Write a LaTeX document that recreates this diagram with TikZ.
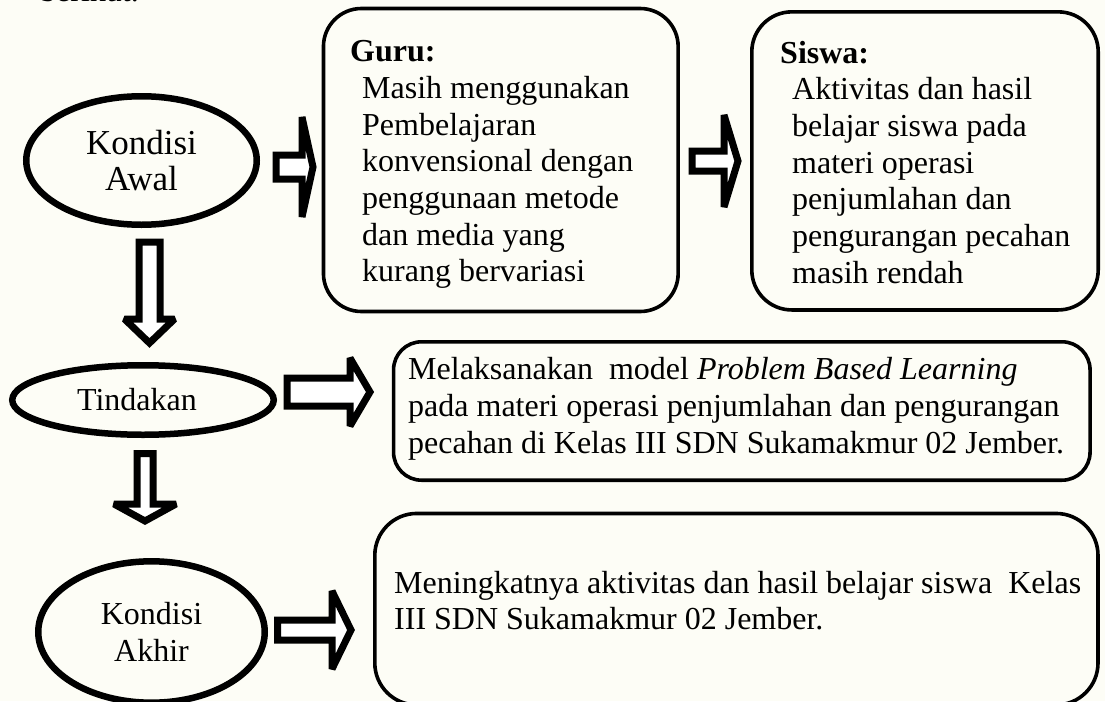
\documentclass[tikz,border=0pt]{standalone}
\usepackage{fontspec}
\setmainfont{Liberation Serif}
\usetikzlibrary{shapes.geometric}
\definecolor{bgcream}{RGB}{253,253,246}
% horizontal block arrow: x0, x head, x tip, y centre, shaft half, head half
\newcommand\harrow[6]{%
  \draw[barrow] (#1,#4-#5) -- (#2,#4-#5) -- (#2,#4-#6) -- (#3,#4) -- (#2,#4+#6) -- (#2,#4+#5) -- (#1,#4+#5) -- cycle;}
% vertical block arrow: x centre, y0, y head, y tip, shaft half, head half
\newcommand\varrow[6]{%
  \draw[barrow] (#1-#5,#2) -- (#1-#5,#3) -- (#1-#6,#3) -- (#1,#4) -- (#1+#6,#3) -- (#1+#5,#3) -- (#1+#5,#2) -- cycle;}
\begin{document}
\begin{tikzpicture}[x=1pt,y=-1pt,
  txt/.style={font=\fontsize{32}{36.67}\selectfont},
  ell/.style={ellipse, draw, line width=6.5pt, inner sep=0pt, align=center, txt},
  rbox/.style={draw, line width=3.6pt, rounded corners=#1, inner sep=0pt},
  body/.style={txt, align=left, inner sep=0pt, anchor=base west},
  barrow/.style={draw, line width=7pt, fill=white, line join=miter, miter limit=2}]
\useasboundingbox (0,0) rectangle (1105,701);
\fill[bgcream] (0,0) rectangle (1105,701);
\begin{scope}
\clip (0,0) rectangle (1105,701);
\node[body] (intro) at (40,1.5) {berikut.};

% left column
\node[ell, minimum width=230.5pt, minimum height=128.5pt, font=\fontsize{35}{36}\selectfont] (awal) at (141.5,160.5) {Kondisi\\Awal};
\node[ell, minimum width=261.5pt, minimum height=69.5pt] (tindakan) at (143,400) {Tindakan\hspace*{12pt}};
\node[ell, minimum width=226.5pt, minimum height=141.4pt] (akhir) at (151.5,632) {Kondisi\\Akhir};

% boxes (text nodes anchored at the baseline of their last line)
\node[rbox=38pt, minimum width=354.7pt, minimum height=303pt] (guru) at (500.8,160) {};
\node[body] (gurutext) at (350,281.7) {\textbf{Guru:}\\
  \hspace*{12pt}Masih menggunakan\\
  \hspace*{12pt}Pembelajaran\\
  \hspace*{12pt}konvensional dengan\\
  \hspace*{12pt}penggunaan metode\\
  \hspace*{12pt}dan media yang\\
  \hspace*{12pt}kurang bervariasi};

\node[rbox=40pt, minimum width=346.4pt, minimum height=298.1pt] (siswa) at (925,160.9) {};
\node[body] (siswatext) at (780,283.3) {\textbf{Siswa:}\\
  \hspace*{12pt}Aktivitas dan hasil\\
  \hspace*{12pt}belajar siswa pada\\
  \hspace*{12pt}materi operasi\\
  \hspace*{12pt}penjumlahan dan\\
  \hspace*{12pt}pengurangan pecahan\\
  \hspace*{12pt}masih rendah};

\node[rbox=28pt, minimum width=696.5pt, minimum height=138.4pt] (tindakanbox) at (741.8,411) {};
\node[body] (tindakantext) at (408,453.3) {Melaksanakan\ \ model \textit{Problem Based Learning}\\
  pada materi operasi penjumlahan dan pengurangan\\
  pecahan di Kelas III SDN Sukamakmur 02 Jember.};

\node[rbox=42pt, minimum width=723.2pt, minimum height=191.5pt] (akhirbox) at (736.4,609.2) {};
\node[body] (akhirtext) at (394,629.7) {Meningkatnya aktivitas dan hasil belajar siswa\ \ Kelas\\
  III SDN Sukamakmur 02 Jember.};

% block arrows
\harrow{276}{302}{313}{167}{12}{50}
\harrow{692}{724}{738}{161}{10}{46}
\harrow{287}{350}{370}{392}{14}{34}
\harrow{277.5}{332}{351}{630}{10}{39}
\varrow{149.5}{242}{319}{343}{10.5}{25}
\varrow{145}{453.5}{504}{521}{8}{31}
\end{scope}
\end{tikzpicture}
\end{document}
